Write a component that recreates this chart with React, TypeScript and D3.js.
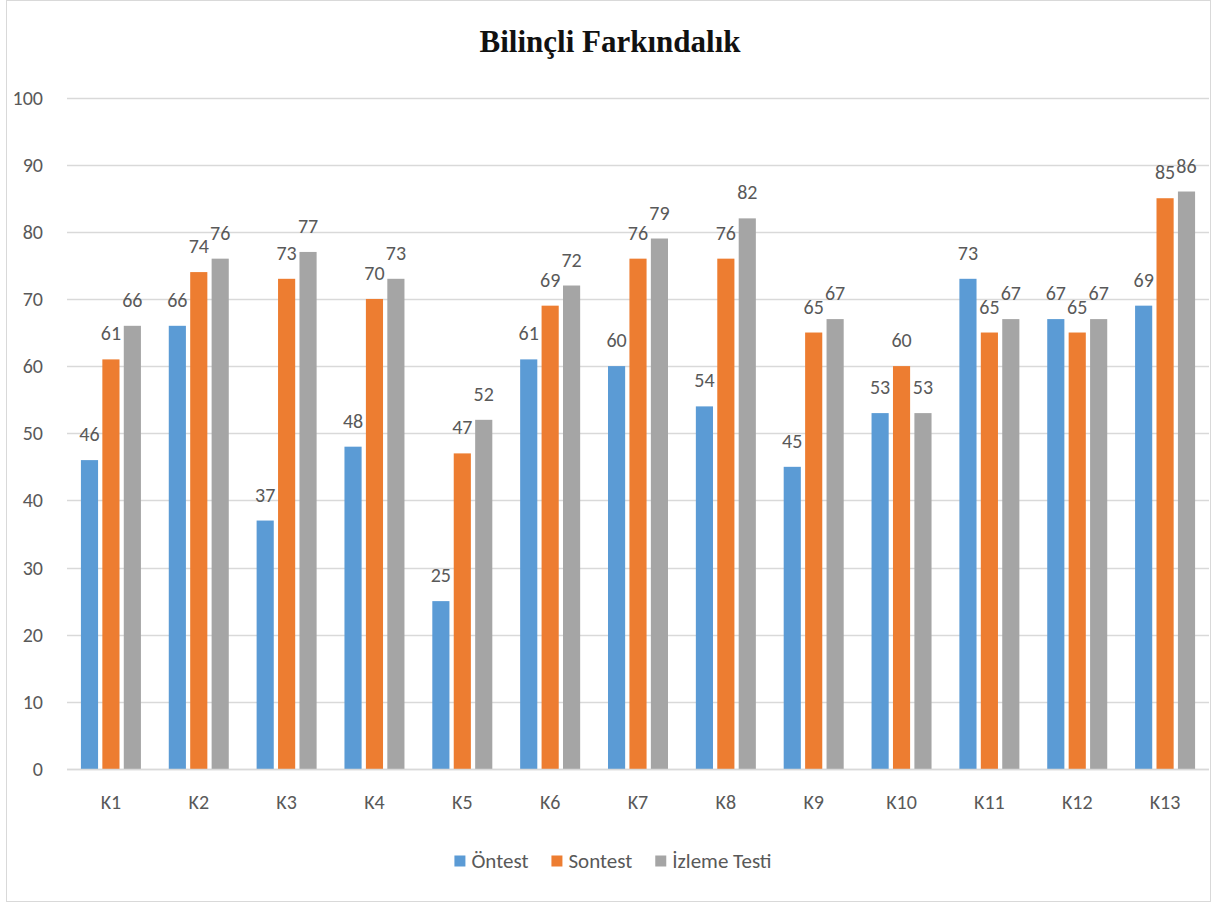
import React, { useMemo } from "react";
import * as d3 from "d3";

// Participants and the three measurement series
const categories = ["K1", "K2", "K3", "K4", "K5", "K6", "K7", "K8", "K9", "K10", "K11", "K12", "K13"];
const seriesNames = ["Öntest", "Sontest", "İzleme Testi"];
const ontest = [46, 66, 37, 48, 25, 61, 60, 54, 45, 53, 73, 67, 69];
const sontest = [61, 74, 73, 70, 47, 69, 76, 76, 65, 60, 65, 65, 85];
const izlemeTesti = [66, 76, 77, 73, 52, 72, 79, 82, 67, 53, 67, 67, 86];
const yTicks = [0, 10, 20, 30, 40, 50, 60, 70, 80, 90, 100];
const title = "Bilinçli Farkındalık";

const W = 1217;
const H = 903;
const colors = ["#5B9BD5", "#ED7D31", "#A5A5A5"];
const textColor = "#595959";
const gridColor = "#D9D9D9";
const font = "Carlito, Lato, 'Open Sans', sans-serif";

const plot = { left: 67, right: 1209, top: 97.5, bottom: 769 };

function measure(text: string, size: number): number {
  const c = document.createElement("canvas").getContext("2d");
  if (!c) return text.length * size * 0.55;
  c.font = `${size}px ${font}`;
  return c.measureText(text).width;
}

export default function App() {
  const series = [ontest, sontest, izlemeTesti];

  const x = d3.scaleBand<string>().domain(categories).range([plot.left, plot.right]).padding(0);
  const inner = d3
    .scaleBand<number>()
    .domain([0, 1, 2])
    .range([x.bandwidth() / 2 - 30, x.bandwidth() / 2 + 30])
    .paddingInner(0.2)
    .paddingOuter(0);
  const y = d3.scaleLinear().domain([0, 100]).range([plot.bottom, plot.top]);

  const labelSize = 20;
  const legendSize = 21;
  const legend = useMemo(() => {
    const sq = 11;
    const gapText = 6;
    const gapItem = 23;
    const widths = seriesNames.map((n) => sq + gapText + measure(n, legendSize));
    const total = d3.sum(widths) + gapItem * (seriesNames.length - 1);
    let cx = 613 - total / 2;
    return seriesNames.map((n, i) => {
      const item = { name: n, x: cx, sq, gapText };
      cx += widths[i] + gapItem;
      return item;
    });
  }, []);

  return (
    <svg
      width={W}
      height={H}
      style={{ position: "absolute", left: 0, top: 0, background: "#fff" }}
      fontFamily={font}
    >
      <rect x={6.5} y={0.5} width={1204} height={901} fill="#fff" stroke="#D9D9D9" strokeWidth={1} />

      <text
        x={610}
        y={52}
        textAnchor="middle"
        fontFamily="'Liberation Serif', 'Times New Roman', serif"
        fontWeight="bold"
        fontSize={31}
        fill="#111"
      >
        {title}
      </text>

      {/* gridlines and y-axis labels */}
      {yTicks.map((t) => (
        <g key={t}>
          <line
            x1={plot.left}
            x2={plot.right}
            y1={Math.round(y(t)) + 0.5}
            y2={Math.round(y(t)) + 0.5}
            stroke={gridColor}
            strokeWidth={1.3}
          />
          <text x={43} y={y(t)} dy="0.35em" textAnchor="end" fontSize={labelSize} fill={textColor}>
            {t}
          </text>
        </g>
      ))}

      {/* bars with value labels */}
      {categories.map((c, ci) => (
        <g key={c} transform={`translate(${x(c)},0)`}>
          {series.map((s, si) => {
            const bx = inner(si) as number;
            const bw = inner.bandwidth();
            const v = s[ci];
            return (
              <g key={si}>
                <rect x={bx} y={y(v)} width={bw} height={y(0) - y(v)} fill={colors[si]} />
                <text
                  x={bx + bw / 2}
                  y={y(v) - 26}
                  dy="0.35em"
                  textAnchor="middle"
                  fontSize={labelSize}
                  fill={textColor}
                >
                  {v}
                </text>
              </g>
            );
          })}
          <text
            x={x.bandwidth() / 2}
            y={802}
            dy="0.35em"
            textAnchor="middle"
            fontSize={labelSize}
            fill={textColor}
          >
            {c}
          </text>
        </g>
      ))}

      {/* axis baseline */}
      <line
        x1={plot.left}
        x2={plot.right}
        y1={Math.round(y(0)) + 0.5}
        y2={Math.round(y(0)) + 0.5}
        stroke={gridColor}
        strokeWidth={1.3}
      />

      {/* legend */}
      {legend.map((l, i) => (
        <g key={l.name}>
          <rect x={l.x} y={861 - l.sq / 2} width={l.sq} height={l.sq} fill={colors[i]} />
          <text x={l.x + l.sq + l.gapText} y={861} dy="0.35em" fontSize={legendSize} fill={textColor}>
            {l.name}
          </text>
        </g>
      ))}
    </svg>
  );
}
